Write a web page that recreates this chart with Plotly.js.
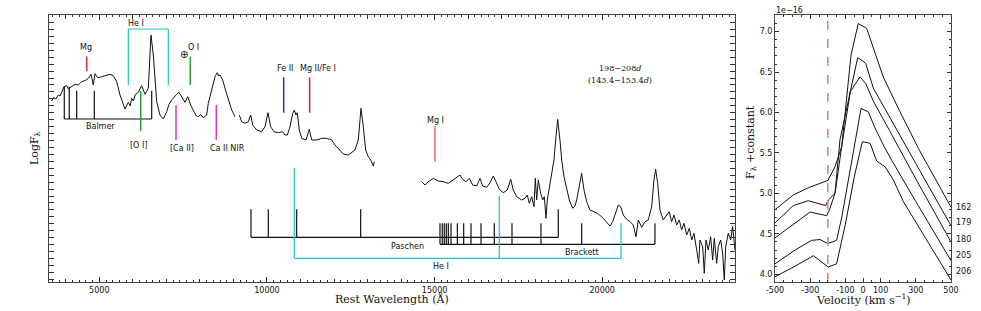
<!DOCTYPE html>
<html><head><meta charset="utf-8">
<script src="https://cdn.plot.ly/plotly-3.0.1.min.js"></script>
<style>body{margin:0;background:#fff}#chart{width:981px;height:311px}</style>
</head><body><div id="chart"></div>
<script>
// ---------- Spectrum (Rest wavelength in Angstrom, log flux in arbitrary units) ----------
const waveOpt = [3580,3640,3700,3777,3830,3879,3947,4028,4080,4126,4200,4275,4374,4475,4595,4672,4753,4821,4872,4952,5072,5170,5319,5418,5519,5618,5767,5865,5920,5966,6020,6065,6163,6265,6363,6462,6542,6611,6712,6810,6909,7010,7079,7159,7237,7308,7377,7458,7556,7637,7726,7833,7900,7953,8030,8102,8203,8251,8352,8451,8519,8560,8600,8680,8779,8877,8949,8997,9047,9110,9176,9247,9346,9444,9516,9575,9694,9844,9942,10031,10112,10210,10339,10470,10538,10607,10688,10768,10816,10867,10905,10965,11037,11165,11263,11335,11484,11633,11782,11931,12030,12158,12277,12426,12528,12626,12725,12805,12874,12945,13023,13094,13172,13202];
const fluxOpt = [18.1,18.45,18.3,18.7,18.6,18.97,19.53,19.63,19.3,19.43,19.6,19.77,19.7,20.03,20.17,20.37,20.77,19.7,20.83,20.43,20.53,20.63,20.77,20.63,20.03,18.7,17.3,17.97,17.6,18.37,18.1,18.7,18.97,19.63,18.77,19.37,24.7,22.7,18.03,16.7,16.3,17.03,17.77,18.2,18.53,18.77,18.97,18.53,17.97,18.53,17.7,16.97,16.6,16.53,16.75,16.43,16.7,17.87,19.2,20.53,20.93,20.6,20.7,20.2,19.03,17.87,17.2,16.87,16.53,null,16.7,16.03,15.87,16.03,16.7,15.7,15.2,15.03,15.53,16.93,15.53,15.03,14.93,15.03,14.7,14.7,15.53,16.87,17.2,16.7,16.93,15.2,14.37,14.2,15.27,14.2,14.2,14.37,14.37,14.2,13.7,13.27,12.8,12.7,12.93,13.2,14.2,17.37,15.53,13.2,12.53,12.2,11.6,12.03];
const waveIR = [14615,14714,14812,14961,15110,15260,15409,15540,15659,15758,15838,15937,16035,16136,16256,16354,16435,16554,16652,16751,16831,16930,17049,17168,17270,17347,17448,17598,17696,17765,17825,17896,17965,18004,18045,18093,18164,18224,18272,18323,18361,18421,18493,18561,18621,18671,18740,18791,18859,18940,19018,19119,19187,19238,19316,19387,19456,19536,19635,19733,19853,19984,20112,20231,20312,20380,20479,20550,20628,20729,20828,20926,21007,21075,21177,21275,21374,21475,21543,21594,21654,21722,21821,21922,22000,22071,22140,22220,22298,22369,22438,22519,22597,22668,22736,22817,22877,22915,22996,23044,23094,23163,23234,23294,23342,23413,23461,23533,23592,23640,23682,23759,23831,23890,23959];
const fluxIR = [10.03,9.7,10.03,10.37,10.1,10.03,9.87,10.2,10.53,10.7,10.27,10.03,10.37,9.7,9.6,10.37,9.6,9.47,9.93,10.6,10.03,9.27,8.93,9.2,10.27,9.2,8.53,8.2,8.37,8.7,7.87,8.53,7.53,10.37,8.2,10.2,8.87,8.2,8.53,6.37,8.2,9.53,11.03,12.2,14.53,16.27,14.2,12.2,10.53,9.2,8.2,7.37,7.6,8.2,9.53,10.87,9.2,8.03,7.2,7.03,6.87,6.53,6.03,5.6,6.03,6.7,7.7,7.53,6.7,6.27,6.03,5.7,4.53,6.2,5.47,6.03,6.2,7.53,10.2,11.27,9.87,7.2,6.2,6.7,7.03,6.03,6.7,5.7,6.2,5.2,5.87,4.7,5.37,4.2,4.87,3.2,1.87,4.2,3.53,0.87,4.2,3.2,4.53,2.2,4.37,1.87,3.53,4.2,2.87,0.2,3.53,4.87,4.2,5.53,3.2];
const waveTicks = [5000,10000,15000,20000];
const waveTickText = ['5000','10000','15000','20000'];

// ---------- Line identifications ----------
const balmerWave = [3956,4105,4326,4851,6563];
const balmerTop = [19.53,19.53,19.13,19.13,19.13];
const balmerBar = 16.3;
const paschenWave = [9524,10040,10887,12796,18689];
const paschenTop = [7.27,7.27,7.27,7.27,7.27];
const paschenBar = 4.47;
const brackettWave = [15161,15230,15290,15350,15410,15490,15680,15868,16086,16384,16781,17309,18173,19387,21573];
const brackettTop = 5.87;
const brackettBar = 3.77;
const heIirWave = [10816,16930,20559];
const heIirTop = [11.43,8.63,5.87];
const heIirBar = 2.37;
const heIoptWave = [5865,7058];
const heIoptBottom = 19.7;
const heIoptBar = 25.3;
// single markers: name, wavelength, low, high
const markNames = ['Mg','[O I]','O I','[Ca II]','Ca II NIR','Fe II','Mg II/Fe I','Mg I'];
const markWave  = [4624,6235,7714,7288,8490,10500,11275,15012];
const markLow   = [21.1,15.1,19.7,14.2,14.2,16.93,16.93,12.03];
const markHigh  = [22.53,19.1,22.53,17.7,17.7,20.47,20.47,15.6];
const markColor = ['#e8202a','#2a9a2a','#2a9a2a','#e030e0','#e030e0','#2a2ad8','#e8202a','#f06a6a'];

// ---------- Velocity profiles ----------
const epochs = ['162','179','180','205','206'];
const vel162 = [-500,-396,-311,-200,-159,-121,-68,-27,21,68,115,210,314,500];
const flx162 = [4.80,4.98,5.07,5.16,5.33,5.58,6.71,7.10,7.04,6.75,6.44,6.01,5.56,4.83];
const vel179 = [-500,-396,-311,-212,-197,-159,-121,-72,-30,15,59,120,200,300,500];
const flx179 = [4.635,4.85,4.91,4.85,4.92,5.00,5.58,6.26,6.68,6.61,6.30,6.06,5.75,5.37,4.60];
const vel180 = [-500,-386,-301,-206,-190,-159,-131,-72,-17,15,59,150,300,500];
const flx180 = [4.45,4.64,4.77,4.725,4.80,5.00,5.66,6.26,6.44,6.36,6.14,5.78,5.18,4.40];
const vel205 = [-500,-386,-292,-244,-200,-150,-121,-93,-55,-11,30,68,120,163,300,500];
const flx205 = [4.13,4.30,4.42,4.43,4.38,4.42,4.70,5.05,5.55,6.05,6.01,5.81,5.58,5.41,4.90,4.17];
const vel206 = [-500,-386,-282,-197,-150,-100,-50,-4,40,78,125,172,229,500];
const flx206 = [3.97,4.10,4.23,4.09,4.13,4.62,5.20,5.64,5.62,5.40,5.33,5.17,4.90,3.93];
const epochLabelY = [4.832,4.635,4.43,4.23,4.03];
const restVel = -200;

// ---------- build traces ----------
const traces = [];
const blk = '#111';
traces.push({x: waveOpt, y: fluxOpt, mode:'lines', line:{color:blk,width:1}, connectgaps:false, xaxis:'x', yaxis:'y', hoverinfo:'skip'});
traces.push({x: waveIR, y: fluxIR, mode:'lines', line:{color:blk,width:1}, xaxis:'x', yaxis:'y', hoverinfo:'skip'});

function ladder(waves, tops, bar, color, barFrom, barTo){
  const xs=[], ys=[];
  waves.forEach((w,i)=>{ xs.push(w,w,null); ys.push(Array.isArray(tops)?tops[i]:tops, bar, null); });
  xs.push(barFrom, barTo); ys.push(bar, bar);
  traces.push({x:xs, y:ys, mode:'lines', line:{color:color,width:1.2}, xaxis:'x', yaxis:'y', hoverinfo:'skip'});
}
ladder(balmerWave, balmerTop, balmerBar, blk, balmerWave[0], balmerWave[balmerWave.length-1]);
ladder(paschenWave, paschenTop, paschenBar, blk, paschenWave[0], paschenWave[paschenWave.length-1]);
ladder(brackettWave, brackettTop, brackettBar, blk, brackettWave[0], brackettWave[brackettWave.length-1]);
ladder(heIirWave, heIirTop, heIirBar, '#1cc4c8', heIirWave[0], heIirWave[heIirWave.length-1]);
ladder(heIoptWave, heIoptBottom, heIoptBar, '#1cc4c8', heIoptWave[0], heIoptWave[1]);
markWave.forEach((w,i)=>{
  traces.push({x:[w,w], y:[markLow[i],markHigh[i]], mode:'lines', line:{color:markColor[i],width:1.5}, xaxis:'x', yaxis:'y', hoverinfo:'skip'});
});

const velSets = [[vel162,flx162],[vel179,flx179],[vel180,flx180],[vel205,flx205],[vel206,flx206]];
velSets.forEach(s=>traces.push({x:s[0], y:s[1], mode:'lines', line:{color:blk,width:1}, xaxis:'x2', yaxis:'y2', hoverinfo:'skip'}));
traces.push({x:[restVel,restVel], y:[3.905,7.206], mode:'lines', line:{color:'#f08080',width:1.6,dash:'dash'}, xaxis:'x2', yaxis:'y2', hoverinfo:'skip'});

// ---------- layout ----------
const W=981, H=311;
const px = v=>v/W, py = v=>1-v/H;
const sans = 'DejaVu Sans', serif='DejaVu Serif';
const tickC = '#333';

const anns = [];
function lab(text,x,y,opt){ anns.push(Object.assign({text:text,x:x,y:y,xref:'x',yref:'y',xanchor:'center',yanchor:'middle',showarrow:false,font:{family:sans,size:8,color:'#111'}},opt||{})); }
lab('Mg',4595,23.43);
lab('He I',6095,25.87);
lab('\u2295',7526,22.77,{font:{family:sans,size:10,color:'#111'}});
lab('O I',7804,23.43);
lab('Balmer',5042,15.5);
lab('[O I]',6163,13.7);
lab('[Ca II]',7458,13.37);
lab('Ca II NIR',8818,13.37);
lab('Fe II',10538,21.37);
lab('Mg II/Fe I',11532,21.37);
lab('Mg I',15042,16.13);
lab('Paschen',14198,3.6);
lab('Brackett',19387,2.97);
lab('He I',15191,1.53);
lab('198\u2212208<i>d</i>',20530,21.37,{font:{family:serif,size:8,color:'#111'}});
lab('(143.4\u2212153.4<i>d</i>)',20530,20.1,{font:{family:serif,size:8,color:'#111'}});
epochs.forEach((e,i)=>anns.push({text:e,x:500,y:epochLabelY[i],xref:'x2',yref:'y2',xanchor:'left',yanchor:'middle',xshift:3,showarrow:false,font:{family:sans,size:8,color:'#111'}}));
function pap(text,x,y,opt){ anns.push(Object.assign({text:text,x:px(x),y:py(y),xref:'paper',yref:'paper',xanchor:'center',yanchor:'middle',showarrow:false,font:{family:serif,size:11,color:'#111'}},opt||{})); }
pap('Rest Wavelength (Å)',392,299);
pap('Velocity (km s<sup>\u22121</sup>)',863,299);
pap('LogF<sub>λ</sub>',35,148,{textangle:-90});
pap('F<sub>λ</sub> +constant',751,142,{textangle:-90});
pap('1e\u221216',789,10,{font:{family:sans,size:8,color:'#111'}});

const axBase = {showline:true, linecolor:'#444', linewidth:1, mirror:'allticks', ticks:'inside', tickcolor:tickC, showgrid:false, zeroline:false, tickfont:{family:sans,size:8,color:'#111'}};
const layout = {
  width:W, height:H, margin:{l:0,r:0,t:0,b:0}, paper_bgcolor:'#fff', plot_bgcolor:'#fff', showlegend:false,
  xaxis: Object.assign({}, axBase, {domain:[px(49),px(735)], range:[3500,23960], tickmode:'array', tickvals:waveTicks, ticktext:waveTickText, ticklen:5,
    minor:{ticks:'inside', tickmode:'linear', dtick:200, tick0:0, ticklen:2, tickcolor:tickC}, anchor:'y'}),
  xaxis3: {overlaying:'x', anchor:'y', domain:[px(49),px(735)], range:[3500,23960], showline:false, mirror:'allticks', ticks:'inside', tickmode:'linear', tick0:0, dtick:1000, ticklen:3.5, tickcolor:tickC, showticklabels:false, showgrid:false, zeroline:false},
  yaxis: Object.assign({}, axBase, {domain:[1-282/H,1-15/H], range:[0,26.7], tick0:0.27, dtick:3.47, ticklen:5, showticklabels:false,
    minor:{ticks:'inside', dtick:0.694, tick0:0.27, ticklen:2.5, tickcolor:tickC}, anchor:'x'}),
  xaxis2: Object.assign({}, axBase, {domain:[px(775),px(951)], range:[-500,500], tickmode:'array', tickvals:[-500,-300,-100,0,100,300,500], ticktext:['-500','-300','-100','0','100','300','500'], ticklen:4,
    minor:{ticks:'inside', tickmode:'linear', tick0:-500, dtick:50, ticklen:2, tickcolor:tickC}, anchor:'y2'}),
  yaxis2: Object.assign({}, axBase, {domain:[1-282/H,1-15/H], range:[3.905,7.206], tickmode:'array', tickvals:[4,4.5,5,5.5,6,6.5,7], ticktext:['4.0','4.5','5.0','5.5','6.0','6.5','7.0'], ticklen:4,
    minor:{ticks:'inside', tickmode:'linear', tick0:4, dtick:0.1, ticklen:2, tickcolor:tickC}, anchor:'x2'}),
  annotations: anns
};
// dummy trace to activate overlay axis for the 1000 A ticks
traces.push({x:[3500], y:[null], mode:'lines', xaxis:'x3', yaxis:'y', hoverinfo:'skip'});
Plotly.newPlot('chart', traces, layout, {staticPlot:true, displayModeBar:false});
</script></body></html>
